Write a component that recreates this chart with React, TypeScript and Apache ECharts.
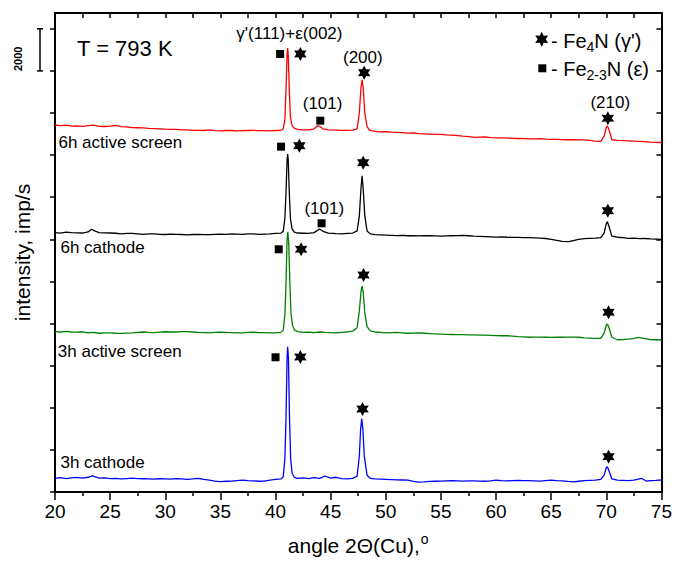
import React, { useEffect, useRef } from "react";
import * as echarts from "echarts";

const FONT = "'Liberation Sans', Arial, Helvetica, sans-serif";

// x axis (2θ, degrees)
const X_MIN = 20;
const X_MAX = 75;
const X_TICKS_STEP = 5;
// y axis (imp/s)
const Y_MIN = 0;
const Y_MAX = 22750;
const Y_TICKS = [0, 2000, 4000, 6000, 8000, 10000, 12000, 14000, 16000, 18000, 20000, 22000];
const SCALE_BAR = [20000, 22000];

// vertical offsets of the stacked patterns (imp/s)
const OFFSET_6H_ACTIVE = 16300;
const OFFSET_6H_CATHODE = 11700;
const OFFSET_3H_ACTIVE = 7000;
const OFFSET_3H_CATHODE = 0;

// intensities: [2θ, imp/s]
const sixHActive: [number, number][] = [
  [20, 1130], [20.5, 1100], [21, 1120], [21.5, 1080], [22, 1090], [22.5, 1070], [23, 1100], [23.5, 1120], [24, 1070], [24.5, 1060],
  [25, 1080], [25.5, 1110], [26, 1050], [26.5, 1040], [27, 1010], [27.5, 1000], [28, 990], [28.5, 970], [29, 960], [29.5, 950],
  [30, 930], [30.5, 920], [31, 920], [31.5, 900], [32, 900], [32.5, 880], [33, 880], [33.5, 870], [34, 900], [34.5, 860],
  [35, 850], [35.5, 870], [36, 870], [36.5, 850], [37, 860], [37.5, 870], [38, 880], [38.5, 860], [39, 860], [39.5, 850],
  [40, 870], [40.5, 880], [40.7, 950], [40.85, 1400], [40.95, 2800], [41.05, 4500], [41.1, 4780], [41.15, 4500], [41.25, 2800],
  [41.35, 1500], [41.5, 1100], [41.7, 980], [42, 920], [42.5, 900], [43, 900], [43.5, 950], [43.8, 1090], [44, 1070], [44.3, 950],
  [44.8, 900], [45.5, 890], [46, 880], [46.5, 880], [47, 890], [47.4, 950], [47.6, 1700], [47.75, 2900], [47.85, 3270], [47.95, 2900],
  [48.1, 1700], [48.3, 1050], [48.5, 900], [49, 830], [49.5, 800], [50, 810], [50.5, 790], [51, 780], [51.5, 770], [52, 740],
  [52.5, 750], [53, 720], [53.5, 710], [54, 700], [54.5, 690], [55, 690], [55.5, 660], [56, 650], [56.5, 630], [57, 600],
  [57.5, 580], [58, 540], [58.5, 550], [59, 560], [59.5, 530], [60, 520], [60.5, 520], [61, 510], [61.5, 500], [62, 490],
  [62.5, 480], [63, 470], [63.5, 470], [64, 480], [64.5, 460], [65, 450], [65.5, 450], [66, 440], [66.5, 430], [67, 430],
  [67.5, 420], [68, 420], [68.5, 400], [69, 360], [69.5, 350], [69.8, 600], [70, 1000], [70.1, 1085], [70.25, 900], [70.5, 430],
  [71, 400], [71.5, 390], [72, 380], [72.5, 360], [73, 350], [73.5, 340], [74, 320], [74.5, 310], [75, 300],
];

const sixHCathode: [number, number][] = [
  [20, 620], [20.5, 600], [21, 640], [21.5, 620], [22, 610], [22.5, 600], [23, 650], [23.3, 780], [23.6, 700], [24, 620],
  [24.5, 610], [25, 600], [25.5, 590], [26, 560], [26.5, 580], [27, 580], [27.5, 560], [28, 540], [28.5, 560], [29, 560],
  [29.5, 540], [30, 530], [30.5, 550], [31, 540], [31.5, 530], [32, 510], [32.5, 530], [33, 540], [33.5, 520], [34, 520],
  [34.5, 540], [35, 550], [35.5, 540], [36, 560], [36.5, 550], [37, 540], [37.5, 560], [38, 560], [38.5, 540], [39, 550],
  [39.5, 560], [40, 580], [40.5, 600], [40.7, 680], [40.85, 1300], [40.95, 2500], [41.05, 4100], [41.1, 4350], [41.15, 4100],
  [41.25, 2500], [41.35, 1300], [41.5, 800], [41.7, 640], [42, 600], [42.5, 590], [43, 580], [43.5, 620], [44, 790], [44.3, 680],
  [44.8, 600], [45.5, 570], [46, 560], [46.5, 580], [47, 600], [47.4, 700], [47.6, 1400], [47.75, 2700], [47.85, 3320], [47.95, 2700],
  [48.1, 1400], [48.3, 700], [48.6, 560], [49, 520], [49.5, 510], [50, 500], [50.5, 490], [51, 480], [51.5, 490], [52, 470],
  [52.5, 480], [53, 460], [53.5, 470], [54, 470], [54.5, 460], [55, 450], [55.5, 460], [56, 470], [56.5, 480], [57, 490],
  [57.5, 470], [58, 450], [58.5, 440], [59, 430], [59.5, 420], [60, 410], [60.5, 420], [61, 400], [61.5, 390], [62, 390],
  [62.5, 380], [63, 380], [63.5, 370], [64, 360], [64.5, 340], [65, 300], [65.5, 250], [66, 200], [66.6, 190], [67, 240],
  [67.5, 300], [68, 330], [68.5, 350], [69, 360], [69.5, 380], [69.8, 600], [70, 1050], [70.1, 1140], [70.25, 900], [70.5, 450],
  [71, 400], [71.5, 380], [72, 350], [72.5, 360], [73, 330], [73.5, 340], [74, 320], [74.5, 310], [75, 300],
];

const threeHActive: [number, number][] = [
  [20, 620], [20.5, 600], [21, 630], [21.5, 600], [22, 590], [22.5, 610], [23, 560], [23.5, 580], [24, 540], [24.5, 560],
  [25, 560], [25.5, 540], [26, 530], [26.5, 550], [27, 560], [27.5, 580], [28, 600], [28.5, 580], [29, 570], [29.5, 590],
  [30, 610], [30.5, 600], [31, 600], [31.5, 620], [32, 620], [32.5, 600], [33, 580], [33.5, 570], [34, 560], [34.5, 580],
  [35, 590], [35.5, 580], [36, 570], [36.5, 560], [37, 560], [37.5, 580], [38, 590], [38.5, 570], [39, 570], [39.5, 560],
  [40, 560], [40.5, 580], [40.7, 680], [40.85, 1400], [40.95, 2900], [41.05, 5000], [41.12, 5360], [41.2, 4800], [41.3, 2900],
  [41.4, 1500], [41.55, 900], [41.7, 700], [42, 620], [42.5, 580], [43, 590], [43.5, 570], [44, 600], [44.5, 580], [45, 570],
  [45.5, 560], [46, 580], [46.5, 600], [47, 640], [47.4, 800], [47.6, 1600], [47.75, 2500], [47.85, 2780], [47.95, 2500], [48.1, 1500],
  [48.3, 850], [48.6, 650], [49, 600], [49.5, 580], [50, 560], [50.5, 570], [51, 580], [51.5, 560], [52, 540], [52.5, 550],
  [53, 560], [53.5, 540], [54, 520], [54.5, 510], [55, 500], [55.5, 490], [56, 480], [56.5, 470], [57, 470], [57.5, 460],
  [58, 460], [58.5, 450], [59, 450], [59.5, 440], [60, 430], [60.5, 420], [61, 420], [61.5, 400], [62, 380], [62.5, 370],
  [63, 350], [63.5, 360], [64, 360], [64.5, 350], [65, 340], [65.5, 350], [66, 350], [66.5, 360], [67, 360], [67.5, 350],
  [68, 320], [68.5, 310], [69, 300], [69.5, 300], [69.8, 550], [70, 920], [70.1, 980], [70.25, 800], [70.5, 350], [71, 230],
  [71.5, 240], [72, 260], [72.5, 300], [72.9, 340], [73.5, 280], [74, 240], [74.5, 230], [75, 220],
];

const threeHCathode: [number, number][] = [
  [20, 650], [20.5, 680], [21, 640], [21.5, 670], [22, 690], [22.5, 660], [23, 700], [23.4, 770], [23.8, 700], [24, 660],
  [24.5, 670], [25, 640], [25.5, 650], [26, 620], [26.5, 640], [27, 660], [27.5, 640], [28, 630], [28.5, 620], [29, 610],
  [29.5, 630], [30, 620], [30.5, 610], [31, 640], [31.5, 620], [32, 600], [32.5, 620], [33, 650], [33.5, 600], [34, 560],
  [34.5, 520], [35, 490], [35.5, 510], [36, 520], [36.5, 540], [37, 560], [37.5, 540], [38, 530], [38.5, 510], [39, 520],
  [39.5, 560], [40, 600], [40.5, 620], [40.7, 720], [40.85, 1600], [40.95, 3500], [41.05, 6400], [41.1, 6900], [41.17, 6400],
  [41.27, 3500], [41.37, 1600], [41.5, 900], [41.7, 700], [42, 650], [42.5, 670], [43, 640], [43.5, 680], [44, 650], [44.5, 760],
  [45, 660], [45.5, 700], [46, 640], [46.5, 620], [47, 650], [47.4, 750], [47.6, 1700], [47.72, 3000], [47.82, 3480], [47.92, 3000],
  [48.05, 1700], [48.3, 800], [48.6, 650], [49, 620], [49.5, 610], [50, 600], [50.5, 590], [51, 580], [51.5, 570], [52, 560],
  [52.5, 500], [53, 470], [53.5, 480], [54, 500], [54.5, 510], [55, 520], [55.5, 530], [56, 540], [56.5, 530], [57, 520],
  [57.5, 530], [58, 530], [58.5, 520], [59, 510], [59.5, 530], [60, 560], [60.5, 540], [61, 530], [61.5, 540], [62, 550],
  [62.5, 540], [63, 540], [63.5, 530], [64, 520], [64.5, 540], [65, 560], [65.5, 540], [66, 530], [66.5, 500], [67, 480],
  [67.5, 510], [68, 540], [68.5, 550], [69, 560], [69.5, 600], [69.8, 800], [70, 1150], [70.1, 1200], [70.25, 1000], [70.5, 620],
  [71, 560], [71.5, 550], [72, 540], [72.5, 560], [73.2, 650], [73.6, 520], [74, 540], [74.5, 550], [75, 570],
];

const SERIES_NAMES = ["6h active screen", "6h cathode", "3h active screen", "3h cathode"];
const SERIES_COLORS = ["#ff0000", "#000000", "#008000", "#0000ff"];
const SERIES_DATA = [sixHActive, sixHCathode, threeHActive, threeHCathode];
const SERIES_OFFSETS = [OFFSET_6H_ACTIVE, OFFSET_6H_CATHODE, OFFSET_3H_ACTIVE, OFFSET_3H_CATHODE];
// where each pattern's name is written: [2θ, imp/s]
const SERIES_LABEL_POS: [number, number][] = [[20.36, 16577], [20.54, 11576], [20.3, 6664], [20.54, 1392]];

// phase markers: [2θ, imp/s]
const squareMarks: [number, number][] = [
  [40.42, 20805], [44.06, 17637], [40.5, 16402], [44.18, 12763], [40.29, 11528], [40.0, 6398],
];
const starMarks: [number, number][] = [
  [42.25, 20805], [48.04, 19917], [70.14, 17751],
  [42.16, 16449], [47.95, 15642], [70.14, 13362],
  [42.32, 11528], [47.98, 10308], [70.2, 8536],
  [42.25, 6413], [47.89, 3943], [70.2, 1677],
];
// reflection labels
const peakLabelText = ["γ'(111)+ε(002)", "(200)", "(101)", "(101)", "(210)"];
const peakLabelPos: [number, number][] = [[41.26, 21755], [47.92, 20639], [44.27, 18430], [44.42, 13443], [70.36, 18501]];

const STAR_PATH =
  "path://M10 0 L12.75 5.24 L18.66 5 L15.5 10 L18.66 15 L12.75 14.76 L10 20 L7.25 14.76 L1.34 15 L4.5 10 L1.34 5 L7.25 5.24 Z";

function starPoints(cx: number, cy: number, R: number, r: number): number[][] {
  const pts: number[][] = [];
  for (let k = 0; k < 12; k++) {
    const a = (-90 + k * 30) * (Math.PI / 180);
    const rad = k % 2 === 0 ? R : r;
    pts.push([cx + rad * Math.cos(a), cy + rad * Math.sin(a)]);
  }
  return pts;
}

export default function App() {
  const ref = useRef<HTMLDivElement>(null);

  useEffect(() => {
    if (!ref.current) return;
    const chart = echarts.init(ref.current, undefined, { renderer: "svg" });

    const lineSeries = SERIES_DATA.map((d, i) => ({
      type: "line",
      name: SERIES_NAMES[i],
      data: d.map(([x, v]) => [x, v + SERIES_OFFSETS[i]]),
      symbol: "none",
      showSymbol: false,
      lineStyle: { color: SERIES_COLORS[i], width: 1.3 },
      itemStyle: { color: SERIES_COLORS[i] },
      z: 2,
      silent: true,
    }));

    const textLabelSeries = (pos: [number, number][], texts: string[], label: any) => ({
      type: "scatter",
      data: pos.map((p, i) => ({ value: p, name: texts[i] })),
      symbolSize: 1,
      itemStyle: { color: "rgba(0,0,0,0)", opacity: 1 },
      label: {
        show: true,
        formatter: (p: any) => p.name,
        color: "#000",
        opacity: 1,
        fontSize: 17,
        fontFamily: FONT,
        ...label,
      },
      z: 6,
      silent: true,
    });

    const option: any = {
      animation: false,
      backgroundColor: "#ffffff",
      textStyle: { fontFamily: FONT },
      grid: { left: 55, right: 12, top: 13, bottom: 69, containLabel: false },
      xAxis: [
        {
          type: "value",
          min: X_MIN,
          max: X_MAX,
          interval: X_TICKS_STEP,
          position: "bottom",
          name: "{a|angle 2Θ(Cu),}{s|o}",
          nameLocation: "middle",
          nameGap: 40,
          nameTextStyle: {
            rich: {
              a: { fontSize: 21, fontFamily: FONT, color: "#000" },
              s: { fontSize: 14, fontFamily: FONT, color: "#000", padding: [0, 0, 12, 1] },
            },
          },
          axisLine: { show: true, onZero: false, lineStyle: { color: "#000", width: 2 } },
          axisTick: { show: true, inside: false, length: 8, lineStyle: { color: "#000", width: 1.5 } },
          minorTick: { show: true, splitNumber: 2, length: 4, lineStyle: { color: "#000", width: 1.5 } },
          axisLabel: { color: "#000", fontSize: 19, margin: 10, fontFamily: FONT },
          splitLine: { show: false },
        },
        {
          type: "value",
          min: X_MIN,
          max: X_MAX,
          interval: X_TICKS_STEP / 2,
          position: "top",
          axisLine: { show: true, onZero: false, lineStyle: { color: "#000", width: 2 } },
          axisTick: { show: true, inside: true, length: 5, lineStyle: { color: "#000", width: 1.5 } },
          axisLabel: { show: false },
          splitLine: { show: false },
        },
      ],
      yAxis: [
        {
          type: "value",
          min: Y_MIN,
          max: Y_MAX,
          position: "left",
          name: "intensity, imp/s",
          nameLocation: "middle",
          nameGap: 22,
          nameRotate: 90,
          nameTextStyle: { fontSize: 21, color: "#000", fontFamily: FONT },
          axisLine: { show: true, onZero: false, lineStyle: { color: "#000", width: 2 } },
          axisTick: { show: true, inside: false, length: 5, customValues: Y_TICKS, lineStyle: { color: "#000", width: 1.5 } },
          axisLabel: { show: false },
          splitLine: { show: false },
        },
        {
          type: "value",
          min: Y_MIN,
          max: Y_MAX,
          position: "right",
          axisLine: { show: true, onZero: false, lineStyle: { color: "#000", width: 2 } },
          axisTick: { show: true, inside: true, length: 5, customValues: Y_TICKS, lineStyle: { color: "#000", width: 1.5 } },
          axisLabel: { show: false },
          splitLine: { show: false },
        },
      ],
      series: [
        ...lineSeries,
        {
          type: "scatter",
          data: squareMarks,
          symbol: "rect",
          symbolSize: 8,
          itemStyle: { color: "#000", opacity: 1 },
          z: 5,
          silent: true,
        },
        {
          type: "scatter",
          data: starMarks,
          symbol: STAR_PATH,
          symbolSize: [12.5, 14],
          itemStyle: { color: "#000", opacity: 1 },
          z: 5,
          silent: true,
        },
        textLabelSeries(peakLabelPos, peakLabelText, { position: "inside" }),
        textLabelSeries(SERIES_LABEL_POS, SERIES_NAMES, { position: [0, 0], align: "left", verticalAlign: "middle" }),
      ],
    };
    chart.setOption(option);

    // scale bar beside the intensity axis
    const yTop = chart.convertToPixel({ yAxisIndex: 0 }, SCALE_BAR[1]) as number;
    const yBot = chart.convertToPixel({ yAxisIndex: 0 }, SCALE_BAR[0]) as number;
    const bx = 40;
    const lineStyle = { stroke: "#000", lineWidth: 1.5 };

    chart.setOption({
      graphic: [
        { type: "line", shape: { x1: bx, y1: yTop, x2: bx, y2: yBot }, style: lineStyle, silent: true },
        { type: "line", shape: { x1: bx - 3, y1: yTop, x2: bx + 3, y2: yTop }, style: lineStyle, silent: true },
        { type: "line", shape: { x1: bx - 3, y1: yBot, x2: bx + 3, y2: yBot }, style: lineStyle, silent: true },
        {
          type: "text",
          x: 18,
          y: (yTop + yBot) / 2 + 9,
          rotation: Math.PI / 2,
          style: {
            text: String(SCALE_BAR[1] - SCALE_BAR[0]),
            fontSize: 11,
            fontWeight: "bold",
            fontFamily: FONT,
            fill: "#000",
            align: "center",
            verticalAlign: "middle",
          },
          silent: true,
        },
        {
          type: "text",
          x: 77,
          y: 48,
          style: {
            text: "T = 793 K",
            fontSize: 22,
            fontFamily: FONT,
            fill: "#000",
            align: "left",
            verticalAlign: "middle",
          },
          silent: true,
        },
        // legend
        {
          type: "polygon",
          shape: { points: starPoints(541.7, 39.3, 7.5, 4) },
          style: { fill: "#000" },
          silent: true,
        },
        {
          type: "text",
          x: 551,
          y: 41,
          style: {
            text: "{a|- Fe}{s|4}{a|N (γ')}",
            fill: "#000",
            align: "left",
            verticalAlign: "middle",
            rich: {
              a: { fontSize: 20, fontFamily: FONT, fill: "#000", lineHeight: 24 },
              s: { fontSize: 14, fontFamily: FONT, fill: "#000", lineHeight: 14, padding: [12, 0, 0, 0] },
            },
          },
          silent: true,
        },
        {
          type: "rect",
          shape: { x: 538.3, y: 64.3, width: 8, height: 8 },
          style: { fill: "#000" },
          silent: true,
        },
        {
          type: "text",
          x: 551,
          y: 69,
          style: {
            text: "{a|- Fe}{s|2-3}{a|N (ε)}",
            fill: "#000",
            align: "left",
            verticalAlign: "middle",
            rich: {
              a: { fontSize: 20, fontFamily: FONT, fill: "#000", lineHeight: 24 },
              s: { fontSize: 14, fontFamily: FONT, fill: "#000", lineHeight: 14, padding: [12, 0, 0, 0] },
            },
          },
          silent: true,
        },
      ],
    });

    return () => chart.dispose();
  }, []);

  return (
    <div
      ref={ref}
      style={{ position: "fixed", left: 0, top: 0, width: 675, height: 561, background: "#fff" }}
    />
  );
}
